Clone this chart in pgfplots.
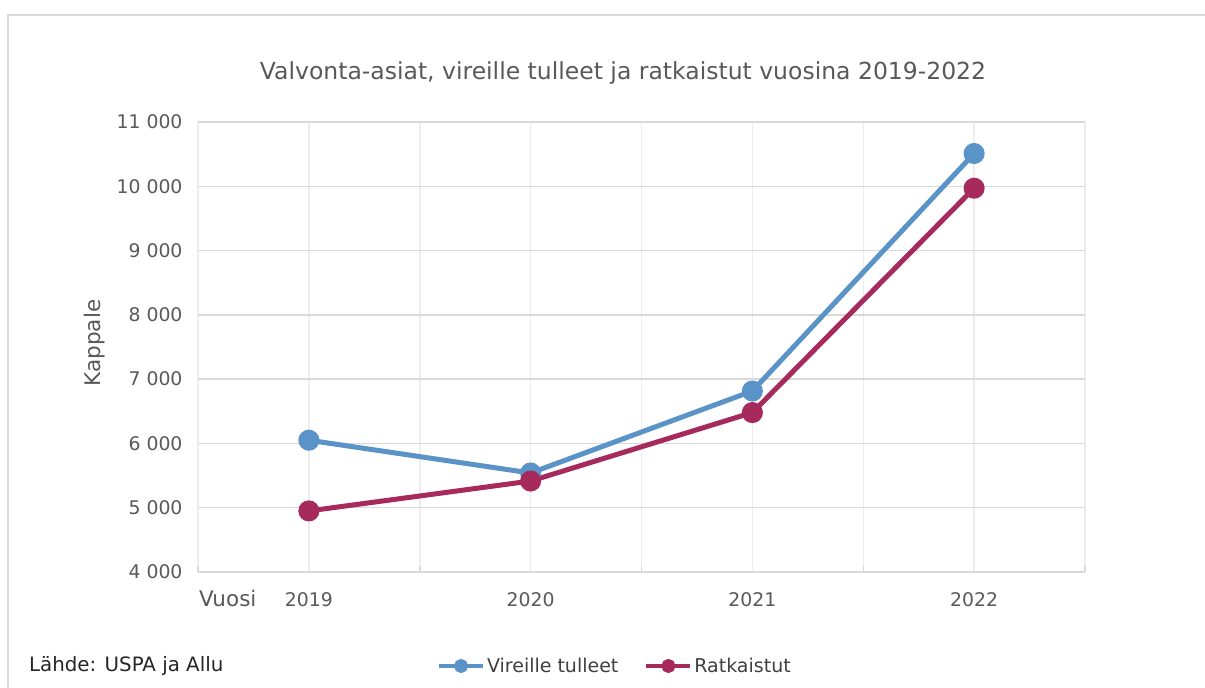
\documentclass[border=0pt]{standalone}
\usepackage{fontspec}
\setmainfont{DejaVu Sans}
\usepackage{pgfplots}
\pgfplotsset{compat=1.18}
\definecolor{blu}{HTML}{5A93C8}
\definecolor{rkred}{HTML}{A62A5B}
\definecolor{txt}{HTML}{595959}
\definecolor{grd}{HTML}{D9D9D9}
\definecolor{vgrd}{HTML}{EDEDED}
\begin{document}
\begin{tikzpicture}[x=1pt,y=1pt]
\useasboundingbox (0,0) rectangle (1205,688);
\fill[white] (0,0) rectangle (1205,688);
\draw[grd, line width=1.5pt] (8,0) -- (8,673) -- (1205,673);
\node[txt, font=\fontsize{23.5}{28}\selectfont] at (623,615) {Valvonta-asiat, vireille tulleet ja ratkaistut vuosina 2019-2022};
\node[txt, rotate=90, font=\fontsize{21.5}{26}\selectfont] at (95,345) {Kappale};
\node[txt, anchor=west, inner sep=0pt, font=\fontsize{21.5}{26}\selectfont] at (199,90) {Vuosi};
\node[black!85, anchor=west, inner sep=0pt, font=\fontsize{19.8}{24}\selectfont] at (29,22) {Lähde: USPA ja Allu};
\begin{axis}[
  at={(198pt,116pt)}, anchor=south west,
  scale only axis, width=887pt, height=450pt,
  xmin=0.5, xmax=4.5, ymin=4000, ymax=11000,
  scaled y ticks=false,
  xtick={1,2,3,4}, xticklabels={2019,2020,2021,2022},
  minor xtick={0.5,1.5,2.5,3.5,4.5},
  ytick={4000,5000,...,11000},
  yticklabels={4 000,5 000,6 000,7 000,8 000,9 000,10 000,11 000},
  axis line style={draw=none},
  xtick pos=bottom, ytick pos=left,
  major tick length=0pt, minor tick length=6pt, tick align=inside,
  minor tick style={grd, line width=1.5pt},
  grid=both,
  major x grid style={vgrd, line width=1.5pt},
  minor x grid style={vgrd, line width=1.5pt},
  major y grid style={grd, line width=1.5pt},
  ticklabel style={txt, font=\fontsize{18.8}{22}\selectfont},
  yticklabel style={xshift=-12pt},
  xticklabel style={yshift=-17pt},
  legend style={at={(rel axis cs:0.47,0)}, anchor=center, yshift=-94pt, draw=none, fill=none,
    font=\fontsize{19}{22}\selectfont, text=black!75, inner sep=0pt,
    /tikz/every even column/.append style={column sep=24pt}},
  legend columns=2,
  legend cell align=left,
  legend image code/.code={\draw[mark repeat=2,mark phase=2,#1,line width=4pt,mark size=5pt] plot coordinates {(0pt,0pt) (22pt,0pt) (44pt,0pt)};},
  clip=false,
]
\addplot[blu, line width=5pt, mark=*, mark size=8pt, mark options={solid}] coordinates {
(1,6050) (2,5540) (3,6815) (4,10510)};
\addlegendentry{Vireille tulleet}
\addplot[rkred, line width=5pt, mark=*, mark size=8pt, mark options={solid}] coordinates {
(1,4950) (2,5415) (3,6480) (4,9970)};
\addlegendentry{Ratkaistut}
\end{axis}
\end{tikzpicture}
\end{document}
